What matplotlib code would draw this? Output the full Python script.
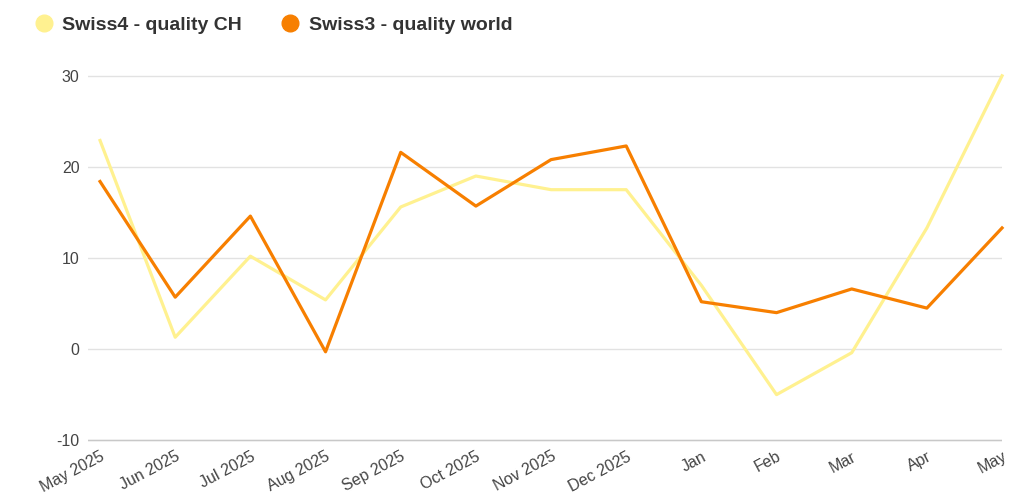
import matplotlib.pyplot as plt
from matplotlib.lines import Line2D

plt.rcParams['font.family'] = ['Liberation Sans', 'DejaVu Sans']

months = ['May 2025', 'Jun 2025', 'Jul 2025', 'Aug 2025', 'Sep 2025', 'Oct 2025',
          'Nov 2025', 'Dec 2025', 'Jan', 'Feb', 'Mar', 'Apr', 'May']
swiss4_ch = [22.9, 1.3, 10.2, 5.4, 15.6, 19.0, 17.5, 17.5, 7.0, -5.0, -0.4, 13.3, 30.0]
swiss3_world = [18.4, 5.7, 14.6, -0.3, 21.6, 15.7, 20.8, 22.3, 5.2, 4.0, 6.6, 4.5, 13.3]
yticks = [-10, 0, 10, 20, 30]

yellow = '#fff190'
orange = '#f77f00'

fig = plt.figure(figsize=(10.27, 5.0), dpi=100)
ax = fig.add_axes([0.0857, 0.116, 0.89, 0.736])

x = range(len(months))
ax.plot(x, swiss4_ch, color=yellow, lw=2.3, clip_on=False, zorder=3)
ax.plot(x, swiss3_world, color=orange, lw=2.3, clip_on=False, zorder=4)

ax.set_xlim(-0.16, len(months) - 1)
ax.set_ylim(-10.2, 30.2)
ax.set_yticks(yticks)
ax.set_yticklabels([str(v) for v in yticks])
ax.set_xticks(list(x))
ax.set_xticklabels(months, rotation=28, ha='right', rotation_mode='anchor')

ax.grid(axis='y', color='#e2e2e2', lw=1)
ax.axhline(-10, color='#c8c8c8', lw=1, zorder=1)
ax.set_axisbelow(True)
for s in ax.spines.values():
    s.set_visible(False)
ax.tick_params(axis='both', length=0, labelsize=11.5, labelcolor='#444444')
ax.tick_params(axis='y', pad=6)
ax.tick_params(axis='x', pad=5)

handles = [
    Line2D([], [], marker='o', ls='', color=yellow, markersize=12),
    Line2D([], [], marker='o', ls='', color=orange, markersize=12),
]
fig.legend(handles, ['Swiss4 - quality CH', 'Swiss3 - quality world'],
           loc='upper left', bbox_to_anchor=(0.014, 1.003), ncol=2, frameon=False,
           prop={'weight': 'bold', 'size': 14}, labelcolor='#333333',
           handletextpad=0.35, columnspacing=1.9, handlelength=1.2)

fig.savefig('out.png', dpi=100)
